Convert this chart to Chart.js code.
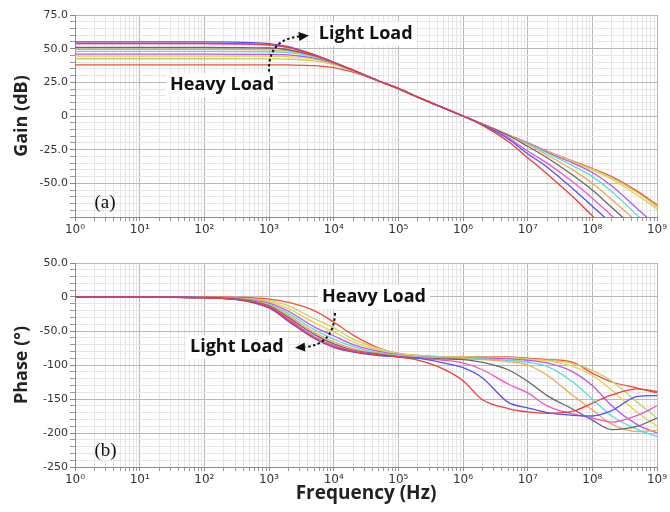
<!DOCTYPE html>
<html>
<head>
<meta charset="utf-8">
<script src="https://cdn.jsdelivr.net/npm/chart.js@4"></script>
<style>
  body { margin: 0; background: #fff; }
  canvas { display: block; }
</style>
</head>
<body>
<canvas id="gainChart" width="670" height="240"></canvas>
<canvas id="phaseChart" width="670" height="272"></canvas>
<script>
// frequency points (Hz) shared by every curve
const freqHz = [1, 10, 100, 1e3, 2e3, 5e3, 1e4, 2e4, 5e4, 1e5, 2e5, 5e5, 1e6, 2e6, 5e6, 1e7, 2e7, 5e7, 1e8, 2e8, 5e8, 1e9];
const decadeLabels = ["10⁰", "10¹", "10²", "10³", "10⁴", "10⁵", "10⁶", "10⁷", "10⁸", "10⁹"];

// light load -> heavy load
const loadColors = ["#ee3b3b", "#5252ee", "#ee55cc", "#666666", "#f0a850", "#55dddd", "#bb55ee", "#e8d050", "#c8d060", "#f05038"];

// gain (dB)
const gain1 = [54, 54, 54, 53, 51, 45.4, 39.9, 34, 26, 20.5, 14, 6, 0, -7, -19, -31, -43, -60, -74, -87, -104, -116];
const gain2 = [55, 55, 55, 53.8, 51.5, 45.5, 39.9, 34, 26, 20.5, 14, 6, 0, -6.5, -17, -28, -38, -54, -67, -80, -97, -110];
const gain3 = [53.5, 53.5, 53.5, 52.6, 50.7, 45.3, 39.8, 34, 26, 20.5, 14, 6, 0, -6.2, -16, -26, -35, -49, -61, -74, -91, -104];
const gain4 = [51, 51, 51, 50.5, 49.2, 44.8, 39.6, 33.8, 26, 20.5, 14, 6, 0, -6, -14.5, -22.5, -31, -44, -55, -68, -85, -98];
const gain5 = [49.5, 49.5, 49.5, 49.1, 48.2, 44.4, 39.5, 33.9, 26, 20.5, 14, 6, 0, -6, -14, -21, -29, -40, -50, -62, -79, -92];
const gain6 = [48, 48, 48, 47.7, 47, 43.9, 39.4, 33.9, 26, 20.5, 14, 6, 0, -6, -14, -20.5, -27.5, -37, -45, -56, -74, -87];
const gain7 = [46, 46, 46, 45.8, 45.4, 43, 39, 33.7, 26, 20.5, 14, 6, 0, -6, -14, -20, -27, -35, -42, -52, -69, -82];
const gain8 = [44.5, 44.5, 44.5, 44.4, 44, 42.2, 38.7, 33.7, 26, 20.5, 14, 6, 0, -6, -14, -20, -26.5, -34, -40, -47, -59, -69];
const gain9 = [42.5, 42.5, 42.5, 42.4, 42.2, 40.9, 38.1, 33.4, 25.9, 20.4, 14, 6, 0, -6, -14, -20, -26.5, -34, -39.5, -46, -57, -67.5];
const gain10 = [38, 38, 38, 38, 37.9, 37.4, 35.9, 32.5, 25.8, 19.9, 14, 6, 0, -6, -14, -20, -26, -33.5, -39, -45, -56, -66];

// phase (deg)
const phase1 = [0, 0, -1, -15, -34, -60, -73, -80, -85, -88, -93, -106, -123, -151, -164, -169, -171, -168, -156, -144, -135, -139];
const phase2 = [0, 0, -1, -16, -36, -61, -74, -81, -86, -88, -90, -97, -104, -119, -155, -163, -170, -174, -175, -167, -146, -145];
const phase3 = [0, 0, -1, -14, -32, -58, -71, -79, -85, -88, -90, -93, -97, -107, -128, -141, -160, -172, -178, -184, -174, -160];
const phase4 = [0, 0, -1, -13, -30, -55, -69, -78, -84, -88, -90, -91, -92, -96, -107, -124, -145, -165, -181, -195, -190, -178];
const phase5 = [0, 0, -1, -12, -27, -52, -66, -76, -83, -87, -89, -90, -91, -92, -95, -100, -115, -145, -166, -187, -198, -196];
const phase6 = [0, 0, -1, -11, -24, -48, -62, -73, -82, -86, -88, -89, -90, -91, -93, -96, -102, -125, -150, -175, -195, -205];
const phase7 = [0, 0, -1, -9, -21, -44, -57, -70, -80, -85, -88, -89, -90, -90, -91, -93, -97, -110, -130, -160, -188, -200];
const phase8 = [0, 0, -1, -7, -17, -38, -51, -66, -78, -84, -87, -89, -89, -89, -90, -92, -94, -102, -115, -137, -170, -190];
const phase9 = [0, 0, -1, -5, -13, -32, -45, -62, -76, -83, -86, -88, -88, -89, -89, -91, -93, -98, -108, -124, -155, -178];
const phase10 = [0, 0, 0, -3, -8, -20, -37, -56, -75, -83, -86, -88, -88, -88, -88, -90, -92, -96, -112, -125, -134, -141];

const gainSeries = [gain1, gain2, gain3, gain4, gain5, gain6, gain7, gain8, gain9, gain10];
const phaseSeries = [phase1, phase2, phase3, phase4, phase5, phase6, phase7, phase8, phase9, phase10];

Chart.defaults.font.family = "'DejaVu Sans', sans-serif";
Chart.defaults.color = "#333";

const TITLE_FONT = "'Open Sans', sans-serif";

function makeDatasets(series) {
  return series.map((vals, k) => ({
    data: freqHz.map((f, i) => ({ x: f, y: vals[i] })),
    borderColor: loadColors[k],
    borderWidth: 1.3,
    pointRadius: 0,
    cubicInterpolationMode: "monotone",
    fill: false,
  }));
}

function freqAxis(axisHeight, showTitle) {
  return {
    type: "logarithmic",
    min: 1,
    max: 1e9,
    afterBuildTicks: (s) => {
      const t = [];
      for (let e = 0; e <= 9; e++) {
        for (let m = 1; m <= 9; m++) {
          const v = m * Math.pow(10, e);
          if (v <= 1e9) t.push({ value: v, main: m === 1 });
        }
      }
      s.ticks = t;
    },
    afterFit: (s) => { s.height = axisHeight; },
    ticks: {
      autoSkip: false,
      maxRotation: 0,
      padding: 2,
      font: { size: 12 },
      color: "#333",
      callback: (v, i, t) => (t[i].main ? decadeLabels[Math.round(Math.log10(v))] : ""),
    },
    grid: {
      color: (c) => (c.tick && c.tick.main ? "#b8b8b8" : "#e6e6e6"),
      tickColor: (c) => (c.tick && c.tick.main ? "#888" : "#999"),
      tickLength: 4,
    },
    border: { color: "#8a8a8a" },
    title: {
      display: showTitle,
      text: "Frequency (Hz)",
      color: "#222",
      font: { family: TITLE_FONT, size: 19, weight: "bold" },
      padding: { top: 0, bottom: 7 },
    },
  };
}

function levelAxis(lo, hi, step, major, titleText, skipValue) {
  return {
    min: lo,
    max: hi,
    afterBuildTicks: (s) => {
      const t = [];
      for (let v = lo; v <= hi; v += step) t.push({ value: v, main: v % major === 0 });
      s.ticks = t;
    },
    afterFit: (s) => { s.width = 75; },
    ticks: {
      autoSkip: false,
      padding: 2,
      font: { size: 11 },
      color: "#333",
      callback: (v, i, t) => {
        if (!t[i].main || v === skipValue) return "";
        if (v === 0) return "0";
        return Math.abs(v) >= 100 ? String(v) : v.toFixed(1);
      },
    },
    grid: {
      color: (c) => (c.tick && c.tick.main ? "#b8b8b8" : "#e6e6e6"),
      tickColor: (c) => (c.tick && c.tick.main ? "#888" : "#999"),
      tickLength: 5,
    },
    border: { color: "#8a8a8a" },
    title: {
      display: true,
      text: titleText,
      color: "#222",
      font: { family: TITLE_FONT, size: 18, weight: "bold" },
      padding: { top: 11, bottom: 0 },
    },
  };
}

// text labels and dotted arrows drawn over the plot
function notesPlugin(id, notes) {
  return {
    id: id,
    afterDraw(chart) {
      const ctx = chart.ctx;
      const xs = chart.scales.x;
      const ys = chart.scales.y;
      const px = (p) => [xs.getPixelForValue(p[0]), ys.getPixelForValue(p[1])];
      ctx.save();
      notes.labels.forEach((n) => {
        ctx.font = n.font;
        ctx.textBaseline = "middle";
        ctx.textAlign = "left";
        const [x, y] = px(n.at);
        const w = ctx.measureText(n.text).width;
        if (n.box) {
          ctx.fillStyle = "#fff";
          ctx.fillRect(x - 4, y - 12, w + 8, 24);
        }
        ctx.fillStyle = "#111";
        ctx.fillText(n.text, x, y);
      });
      notes.arrows.forEach((a) => {
        const [x0, y0] = px(a.from);
        const [cx, cy] = px(a.ctrl);
        const [x1, y1] = px(a.to);
        ctx.strokeStyle = "#111";
        ctx.lineWidth = 2;
        ctx.setLineDash([2.5, 2.5]);
        ctx.beginPath();
        ctx.moveTo(x0, y0);
        ctx.quadraticCurveTo(cx, cy, x1, y1);
        ctx.stroke();
        ctx.setLineDash([]);
        const ang = Math.atan2(y1 - cy, x1 - cx);
        const len = 10, half = 4.5;
        const tx = x1 + Math.cos(ang) * len, ty = y1 + Math.sin(ang) * len;
        ctx.fillStyle = "#111";
        ctx.beginPath();
        ctx.moveTo(tx, ty);
        ctx.lineTo(x1 - Math.sin(ang) * half, y1 + Math.cos(ang) * half);
        ctx.lineTo(x1 + Math.sin(ang) * half, y1 - Math.cos(ang) * half);
        ctx.closePath();
        ctx.fill();
      });
      ctx.restore();
    },
  };
}

const NOTE_FONT = "bold 18px 'Open Sans', sans-serif";
const TAG_FONT = "19px 'Liberation Serif', serif";

new Chart(document.getElementById("gainChart"), {
  type: "line",
  data: { datasets: makeDatasets(gainSeries) },
  options: {
    responsive: false,
    animation: false,
    layout: { padding: { top: 15, right: 13, left: 0, bottom: 0 } },
    plugins: { legend: { display: false }, tooltip: { enabled: false } },
    scales: {
      x: freqAxis(23, false),
      y: levelAxis(-75, 75, 5, 25, "Gain (dB)", -75),
    },
  },
  plugins: [
    notesPlugin("gainNotes", {
      labels: [
        { text: "Light Load", at: [5900, 61], font: NOTE_FONT, box: true },
        { text: "Heavy Load", at: [29.5, 22.8], font: NOTE_FONT, box: true },
        { text: "(a)", at: [2.0, -64.7], font: TAG_FONT, box: false },
      ],
      arrows: [{ from: [1000, 33], ctrl: [960, 56.6], to: [2900, 59] }],
    }),
  ],
});

new Chart(document.getElementById("phaseChart"), {
  type: "line",
  data: { datasets: makeDatasets(phaseSeries) },
  options: {
    responsive: false,
    animation: false,
    layout: { padding: { top: 23, right: 13, left: 0, bottom: 0 } },
    plugins: { legend: { display: false }, tooltip: { enabled: false } },
    scales: {
      x: freqAxis(45, true),
      y: levelAxis(-250, 50, 10, 50, "Phase (°)", null),
    },
  },
  plugins: [
    notesPlugin("phaseNotes", {
      labels: [
        { text: "Heavy Load", at: [6600, 0], font: NOTE_FONT, box: true },
        { text: "Light Load", at: [60, -73.5], font: NOTE_FONT, box: true },
        { text: "(b)", at: [2.0, -226.5], font: TAG_FONT, box: false },
      ],
      arrows: [{ from: [10500, -23.5], ctrl: [10000, -70], to: [3600, -73.5] }],
    }),
  ],
});
</script>
</body>
</html>
